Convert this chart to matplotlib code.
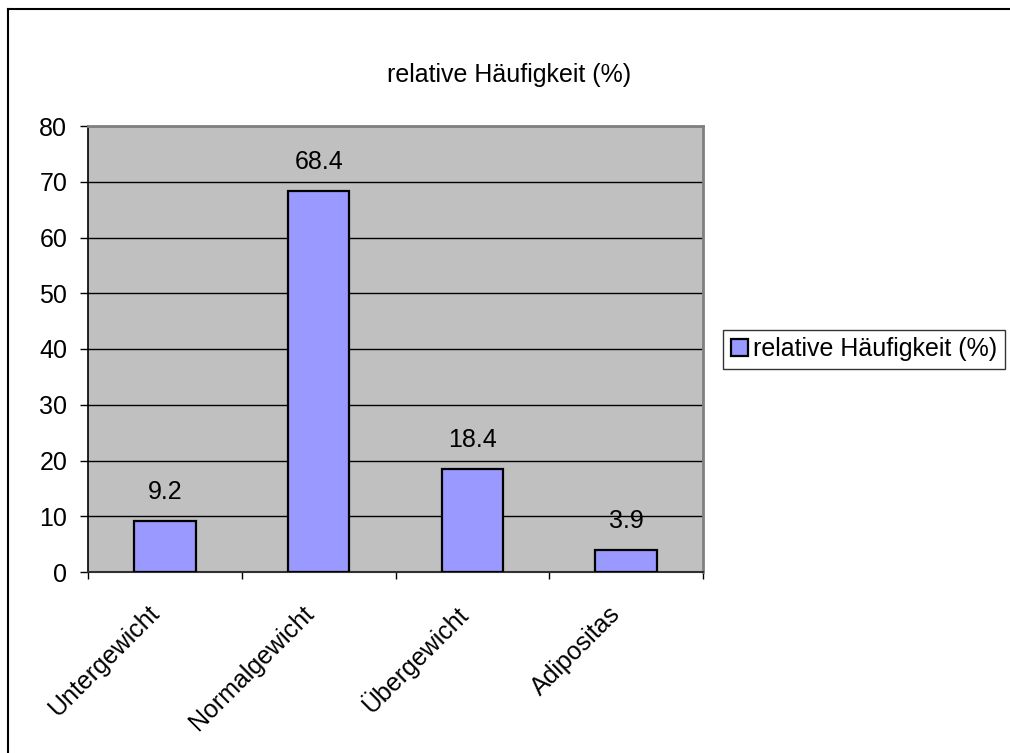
import matplotlib
matplotlib.use("Agg")
import matplotlib.pyplot as plt
from matplotlib.lines import Line2D
from matplotlib.patches import Patch
from matplotlib.transforms import offset_copy

plt.rcParams['font.family'] = ['Liberation Sans', 'DejaVu Sans']

categories = ["Untergewicht", "Normalgewicht", "Übergewicht", "Adipositas"]
values = [9.2, 68.4, 18.4, 3.9]
series_name = "relative Häufigkeit (%)"
yticks = [0, 10, 20, 30, 40, 50, 60, 70, 80]

FS = 18
W, H = 1010, 753
fig = plt.figure(figsize=(W / 100, H / 100), dpi=100)
fig.patch.set_facecolor("white")

# outer chart frame (only top and left edges fall inside the canvas)
fig.add_artist(Line2D([8 / W, 8 / W], [0, 1 - 9 / H], transform=fig.transFigure,
                      color="black", lw=1.5))
fig.add_artist(Line2D([8 / W, 1], [1 - 9 / H, 1 - 9 / H], transform=fig.transFigure,
                      color="black", lw=1.5))

left, right, top, bottom = 88, 703, 126, 572
ax = fig.add_axes([left / W, 1 - bottom / H, (right - left) / W, (bottom - top) / H])
ax.set_facecolor("#C0C0C0")

x = list(range(len(categories)))
ax.bar(x, values, width=0.4, color="#9999FF", edgecolor="black", linewidth=1.6, zorder=3)

for xi, v in zip(x, values):
    ax.annotate(f"{v}", (xi, v), xytext=(0, 21), textcoords="offset points",
                ha="center", va="center", fontsize=FS, color="black", zorder=4)

ax.set_xlim(-0.5, len(categories) - 0.5)
ax.set_ylim(0, 80)
ax.set_yticks(yticks)
ax.set_yticklabels([str(t) for t in yticks], fontsize=FS)
ax.yaxis.grid(True, color="black", lw=1.0, zorder=1)
ax.set_axisbelow(True)

# category boundary ticks; rotated category names under each bar
ax.set_xticks([i - 0.5 for i in range(len(categories) + 1)])
ax.set_xticklabels([])
label_tr = offset_copy(ax.get_xaxis_transform(), fig=fig, x=-9, y=-38, units="dots")
for xi, name in zip(x, categories):
    ax.text(xi, 0, name, transform=label_tr, rotation=45, ha="right", va="center",
            rotation_mode="anchor", fontsize=FS, clip_on=False)
ax.tick_params(axis="x", which="major", length=5, width=1, direction="out", color="black")
ax.tick_params(axis="y", length=6, width=1, direction="out", color="black", pad=9)

for s in ["top", "right"]:
    ax.spines[s].set_color("#808080")
    ax.spines[s].set_linewidth(2)
ax.spines["left"].set_color("black")
ax.spines["left"].set_linewidth(1.2)
ax.spines["bottom"].set_color("#303030")
ax.spines["bottom"].set_linewidth(1.5)

fig.text(509 / W, 1 - 75 / H, series_name, ha="center", va="center", fontsize=FS)

handle = Patch(facecolor="#9999FF", edgecolor="black", linewidth=1.6)
leg = fig.legend([handle], [series_name], loc="center left",
                 bbox_to_anchor=(723 / W, 1 - 349 / H), fontsize=FS,
                 frameon=True, fancybox=False, edgecolor="black",
                 handlelength=0.7, handleheight=0.7, handletextpad=0.2,
                 borderpad=0.3, borderaxespad=0)
leg.get_frame().set_linewidth(1.0)

fig.savefig("out.png", dpi=100, facecolor="white")
